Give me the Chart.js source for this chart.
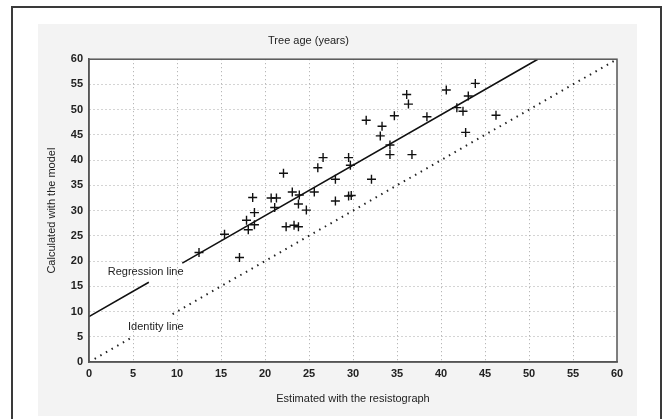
<!DOCTYPE html>
<html>
<head>
<meta charset="utf-8">
<script src="https://cdn.jsdelivr.net/npm/chart.js@4"></script>
<style>
  html, body { margin: 0; padding: 0; background: #fff; }
  #wrap { width: 663px; height: 419px; position: relative; }
</style>
</head>
<body>
<div id="wrap"><canvas id="c" width="663" height="419"></canvas></div>
<script>
// ---- Data ----
const ageResistograph = [12.5, 15.4, 17.1, 17.9, 18.1, 18.8, 18.6, 18.8, 20.7, 21.3, 21.1, 22.1, 22.4, 23.1, 23.3, 23.8, 23.8, 23.9, 24.7, 25.6, 26.0, 26.6, 28.0, 28.0, 29.5, 29.7, 29.5, 29.8, 31.5, 32.1, 33.1, 33.3, 34.2, 34.2, 34.7, 36.1, 36.3, 36.7, 38.4, 40.6, 41.8, 42.5, 42.8, 43.1, 43.9, 46.25];
const ageModel        = [21.7, 25.3, 20.7, 28.1, 26.2, 27.2, 32.6, 29.6, 32.5, 32.5, 30.6, 37.4, 26.8, 33.7, 27.1, 26.8, 31.3, 33.1, 30.1, 33.7, 38.5, 40.5, 36.2, 31.9, 40.5, 39.0, 32.9, 33.0, 47.9, 36.2, 44.8, 46.7, 43.0, 41.1, 48.8, 53.0, 51.1, 41.1, 48.6, 53.9, 50.4, 49.7, 45.5, 52.7, 55.2, 48.9];

const regressionX = [0, 6.8, null, 10.6, 51];
const regressionY = [9, 15.8, null, 19.6, 60];
const identityX   = [0, 5, null, 9.5, 60];
const identityY   = [0, 5, null, 9.5, 60];

const axisTicks = [0, 5, 10, 15, 20, 25, 30, 35, 40, 45, 50, 55, 60];

const chartTitle = 'Tree age (years)';
const xTitle = 'Estimated with the resistograph';
const yTitle = 'Calculated with the model';
const lineLabels = [
  { text: 'Regression line', x: 6.44, y: 17.8 },
  { text: 'Identity line',   x: 7.6,  y: 7.0 }
];

const FONT = '"Liberation Sans Narrow", "Liberation Sans", Arial, sans-serif';

function pts(xs, ys) { return xs.map((x, i) => (x === null ? { x: null, y: null } : { x: x, y: ys[i] })); }

const bgPlugin = {
  id: 'bg',
  beforeDraw(chart) {
    const ctx = chart.ctx;
    const a = chart.chartArea;
    ctx.save();
    ctx.fillStyle = '#ffffff';
    ctx.fillRect(0, 0, chart.width, chart.height);
    ctx.strokeStyle = '#3a3a3a';
    ctx.lineWidth = 2;
    ctx.beginPath();
    ctx.moveTo(12, 430); ctx.lineTo(12, 7); ctx.lineTo(661, 7); ctx.lineTo(661, 430);
    ctx.stroke();
    ctx.fillStyle = '#f3f3f3';
    ctx.fillRect(38, 24, 599, 392);
    ctx.fillStyle = '#ffffff';
    ctx.fillRect(a.left, a.top, a.right - a.left, a.bottom - a.top);
    ctx.restore();
  },
  afterDatasetsDraw(chart) {
    const ctx = chart.ctx;
    const a = chart.chartArea;
    const xs = chart.scales.x, ys = chart.scales.y;
    ctx.save();
    ctx.strokeStyle = '#555';
    ctx.lineWidth = 1.5;
    ctx.strokeRect(a.left, a.top, a.right - a.left, a.bottom - a.top);
    ctx.fillStyle = '#222';
    ctx.font = '11px ' + FONT;
    ctx.textAlign = 'center';
    ctx.textBaseline = 'middle';
    lineLabels.forEach(l => {
      ctx.fillText(l.text, xs.getPixelForValue(l.x), ys.getPixelForValue(l.y));
    });
    ctx.restore();
  }
};

const gridColor = c => (c.tick && (c.tick.value === 0 || c.tick.value === 60)) ? 'rgba(0,0,0,0)' : '#a8a8a8';

new Chart(document.getElementById('c'), {
  type: 'scatter',
  data: {
    datasets: [
      {
        label: 'Data',
        data: pts(ageResistograph, ageModel),
        pointStyle: 'cross',
        pointRadius: 4.5,
        pointBorderWidth: 1.4,
        borderColor: '#111',
        backgroundColor: '#111',
        order: 1
      },
      {
        label: 'Regression line',
        type: 'line',
        data: pts(regressionX, regressionY),
        borderColor: '#111',
        borderWidth: 1.6,
        pointRadius: 0,
        spanGaps: false,
        order: 2
      },
      {
        label: 'Identity line',
        type: 'line',
        data: pts(identityX, identityY),
        borderColor: '#222',
        borderWidth: 2,
        borderDash: [1.5, 5],
        borderCapStyle: 'butt',
        pointRadius: 0,
        spanGaps: false,
        order: 3
      }
    ]
  },
  options: {
    responsive: false,
    devicePixelRatio: 1,
    animation: false,
    layout: { padding: { left: 0, top: 0, right: 46, bottom: 0 } },
    plugins: {
      legend: { display: false },
      tooltip: { enabled: false },
      title: {
        display: true,
        text: chartTitle,
        color: '#222',
        font: { family: FONT, size: 11, weight: 'normal' },
        padding: { top: 34, bottom: 12 }
      }
    },
    scales: {
      x: {
        type: 'linear',
        min: 0, max: 60,
        afterFit(s) { s.height = 57; },
        afterBuildTicks(s) { s.ticks = axisTicks.map(v => ({ value: v })); },
        ticks: { color: '#222', padding: 5, font: { family: FONT, size: 11, weight: 'bold' }, maxRotation: 0, autoSkip: false },
        grid: { drawTicks: false, color: gridColor, lineWidth: 1 },
        border: { display: true, color: '#555', width: 1.5, dash: [1, 3] },
        title: { display: true, text: xTitle, color: '#222', font: { family: FONT, size: 11 }, padding: { top: 0, bottom: 13 } }
      },
      y: {
        type: 'linear',
        min: 0, max: 60,
        afterFit(s) { s.width = 89; },
        afterBuildTicks(s) { s.ticks = axisTicks.map(v => ({ value: v })); },
        ticks: { color: '#222', padding: 6, font: { family: FONT, size: 11, weight: 'bold' }, autoSkip: false },
        grid: { drawTicks: false, color: gridColor, lineWidth: 1 },
        border: { display: true, color: '#555', width: 1.5, dash: [1, 3] },
        title: { display: true, text: yTitle, color: '#222', font: { family: FONT, size: 11 }, padding: { top: 45, bottom: 0 } }
      }
    }
  },
  plugins: [bgPlugin]
});
</script>
</body>
</html>
